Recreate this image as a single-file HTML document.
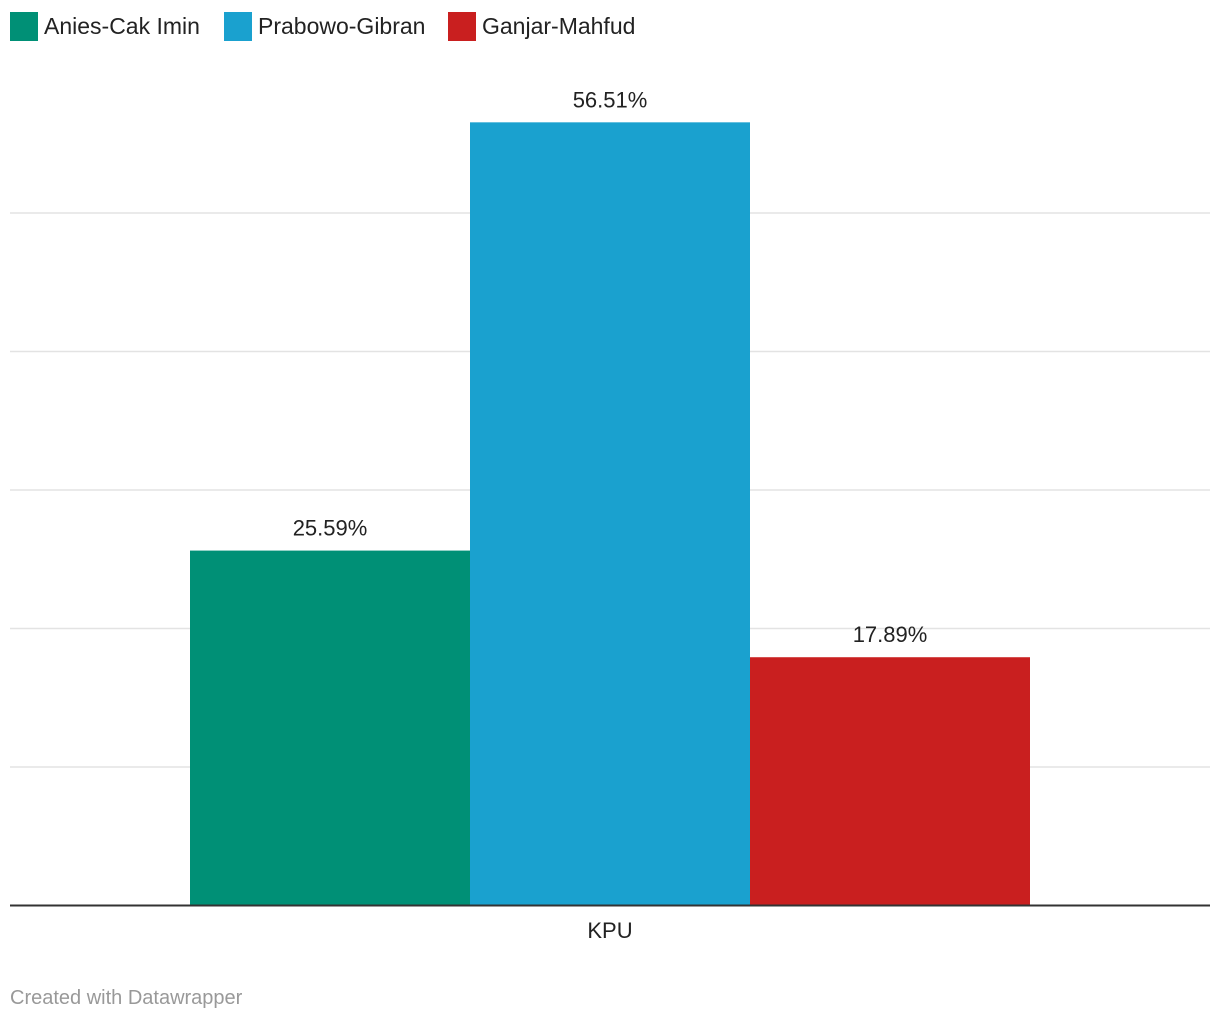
<!DOCTYPE html>
<html><head><meta charset="utf-8"><style>
body{margin:0;background:#fff;width:1220px;height:1020px;overflow:hidden;font-family:"Liberation Sans",Arial,sans-serif;}
</style></head><body>
<svg width="1220" height="1020" xmlns="http://www.w3.org/2000/svg" font-family="Liberation Sans, Arial, sans-serif">
<g id="legend"></g>
<g id="grid"></g>
<g id="bars"></g>
<line x1="10" x2="1210" y1="905.5" y2="905.5" stroke="#333" stroke-width="2"/>
<text x="610" y="938" text-anchor="middle" font-size="22" fill="#222">KPU</text>
<text x="10" y="1004" font-size="20" fill="#999">Created with Datawrapper</text>
</svg>
<script>
const series = ["Anies-Cak Imin","Prabowo-Gibran","Ganjar-Mahfud"];
const values = [25.59,56.51,17.89];
const colors = ["#009076","#1aa1cf","#c91f1f"];
const gridTicks = [10,20,30,40,50];
const NS="http://www.w3.org/2000/svg";
const y0=905, pxPer=13.85;
const y=v=>y0-v*pxPer;
const bandX=190, bandW=840, barW=bandW/series.length;
const x=i=>bandX+i*barW;
function mk(tag,attrs,parent){const e=document.createElementNS(NS,tag);for(const k in attrs)e.setAttribute(k,attrs[k]);parent.appendChild(e);return e;}
const grid=document.getElementById('grid');
gridTicks.forEach(t=>{
  const l=mk('line',{x1:10,x2:1210,y1:y(t)+0.5,y2:y(t)+0.5,stroke:'#e3e3e3','stroke-width':1.5},grid);
  
  
});
const bars=document.getElementById('bars');
values.forEach((v,i)=>{
  const r=mk('rect',{x:x(i),y:y(v),width:barW,height:y0-y(v),fill:colors[i]},bars);
  
  
  const t=mk('text',{x:x(i)+barW/2,y:y(v)-15,'text-anchor':'middle','font-size':22,fill:'#222'},bars);
  t.textContent=v.toFixed(2)+'%';
  
  
});
const leg=document.getElementById('legend');
const legX=[10,224,448];
series.forEach((s,i)=>{
  const r=mk('rect',{x:legX[i],y:12,width:28,height:29,fill:colors[i]},leg);
  
  
  const t=mk('text',{x:legX[i]+34,y:34,'font-size':23,fill:'#222'},leg);
  t.textContent=s;
  
  
});
</script>
</body></html>
